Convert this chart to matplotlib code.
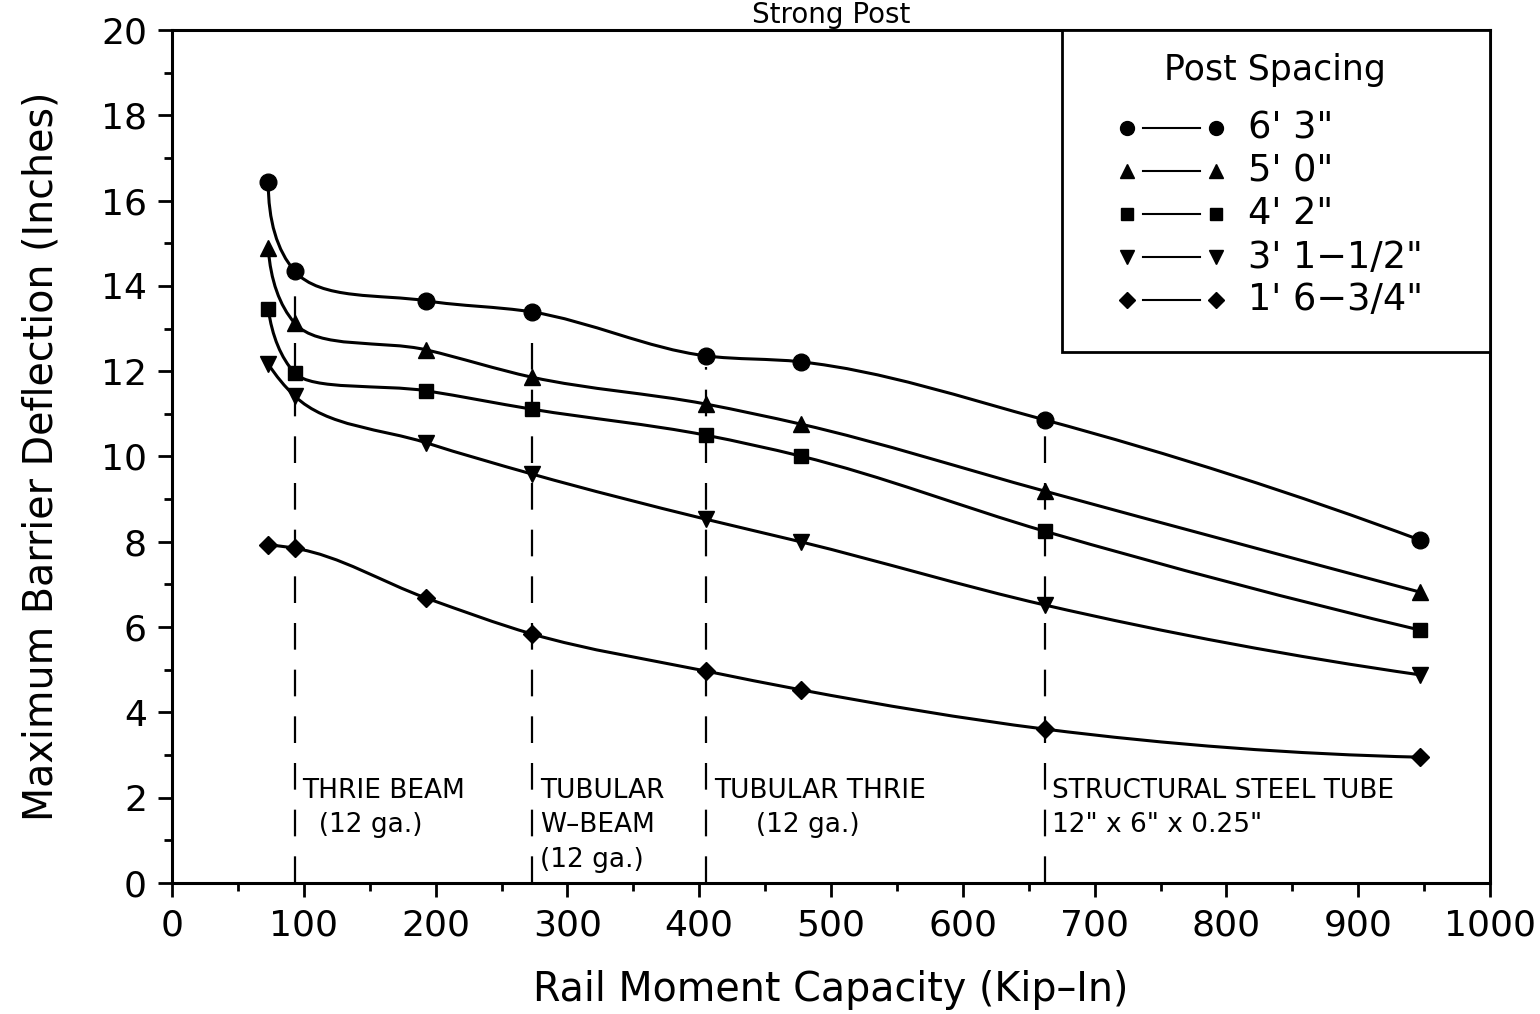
import numpy as np
import matplotlib
matplotlib.use("Agg")
import matplotlib.pyplot as plt
from matplotlib.path import Path
from matplotlib.patches import PathPatch, Rectangle

# ---------------- data ----------------
moment = [73, 93, 193, 273, 405, 477, 662, 947]
defl_6_3 = [16.44, 14.35, 13.65, 13.39, 12.36, 12.22, 10.86, 8.04]
defl_5_0 = [14.88, 13.13, 12.50, 11.86, 11.23, 10.76, 9.19, 6.82]
defl_4_2 = [13.46, 11.96, 11.54, 11.11, 10.50, 10.01, 8.25, 5.93]
defl_3_1 = [12.17, 11.42, 10.32, 9.59, 8.53, 8.00, 6.52, 4.88]
defl_1_6 = [7.93, 7.85, 6.68, 5.84, 4.97, 4.53, 3.61, 2.95]

series_labels = ["6' 3\"", "5' 0\"", "4' 2\"", "3' 1\u22121/2\"", "1' 6\u22123/4\""]
series_markers = ["o", "^", "s", "v", "D"]

rail_x = [93, 273, 405, 662]
rail_top = [13.8, 12.7, 12.1, 10.5]
rail_lines = [["THRIE BEAM", "  (12 ga.)"],
              ["TUBULAR", "W\u2013BEAM", "(12 ga.)"],
              ["TUBULAR THRIE", "     (12 ga.)"],
              ["STRUCTURAL STEEL TUBE", "12\" x 6\" x 0.25\""]]

xticks = [0, 100, 200, 300, 400, 500, 600, 700, 800, 900, 1000]
yticks = [0, 2, 4, 6, 8, 10, 12, 14, 16, 18, 20]

# y-to-x visual aspect (pixels per unit y / pixels per unit x)
YSCALE = (853 / 20) / (1318 / 1000)


def clamp_handle(P, v, lo, hi):
    """Shrink handle vector v (keeping direction) so P+v stays within [lo, hi] in y."""
    q = P[1] + v[1]
    if q > hi and v[1] > 0:
        v = v * (hi - P[1]) / v[1]
    elif q < lo and v[1] < 0:
        v = v * (lo - P[1]) / v[1]
    return v


def parametric_path(x, y):
    """Smooth parametric cubic (chord-length) through the points, as Bezier path."""
    P = np.column_stack([np.asarray(x, float), np.asarray(y, float) * YSCALE])
    seg = np.diff(P, axis=0)
    h = np.hypot(seg[:, 0], seg[:, 1])
    d = seg / h[:, None]
    n = len(P)
    m = np.zeros_like(P)
    for k in range(1, n - 1):
        m[k] = (h[k] * d[k - 1] + h[k - 1] * d[k]) / (h[k - 1] + h[k])
    m[0] = ((2 * h[0] + h[1]) * d[0] - h[0] * d[1]) / (h[0] + h[1])
    m[-1] = ((2 * h[-1] + h[-2]) * d[-1] - h[-1] * d[-2]) / (h[-1] + h[-2])
    verts = [P[0]]; codes = [Path.MOVETO]
    for i in range(n - 1):
        lo = min(P[i][1], P[i + 1][1]); hi = max(P[i][1], P[i + 1][1])
        v1 = clamp_handle(P[i], m[i] * h[i] / 3, lo, hi)
        v2 = clamp_handle(P[i + 1], -m[i + 1] * h[i] / 3, lo, hi)
        verts += [P[i] + v1, P[i + 1] + v2, P[i + 1]]
        codes += [Path.CURVE4] * 3
    V = np.array(verts)
    V[:, 1] /= YSCALE
    return Path(V, codes)


plt.rcParams['font.family'] = ['DejaVu Sans']
fig = plt.figure(figsize=(15.4, 10.14), dpi=100)
ax = fig.add_axes([172 / 1540, 1 - 883 / 1014, (1490 - 172) / 1540, (883 - 30) / 1014])

all_series = [defl_6_3, defl_5_0, defl_4_2, defl_3_1, defl_1_6]
msizes = [12, 11, 10.5, 11, 9]
for ys, mk, ms in zip(all_series, series_markers, msizes):
    ax.add_patch(PathPatch(parametric_path(moment, ys), fill=False, edgecolor='black',
                           linewidth=2.2, zorder=3, capstyle='round'))
    ax.plot(moment, ys, linestyle='none', marker=mk, markersize=ms, color='black', zorder=4)

for xv, top, lines in zip(rail_x, rail_top, rail_lines):
    ax.plot([xv, xv], [0, top], color='black', linewidth=1.6,
            dashes=(12, 9), zorder=2)
    for j, t in enumerate(lines):
        ax.text(xv + 6, 2.15 - j * 0.8, t, fontsize=19, va='center', ha='left',
                family=['Liberation Sans Narrow', 'DejaVu Sans Condensed', 'DejaVu Sans'])

ax.set_xlim(0, 1000)
ax.set_ylim(0, 20)
ax.set_xticks(xticks)
ax.set_yticks(yticks)
ax.set_xticks(np.arange(50, 1000, 100), minor=True)
ax.set_yticks(np.arange(1, 20, 2), minor=True)
ax.tick_params(axis='both', which='major', direction='out', length=10, width=2,
               labelsize=26, pad=8)
ax.tick_params(axis='both', which='minor', direction='out', length=6, width=2)
for sp in ax.spines.values():
    sp.set_linewidth(2.2)

ax.set_xlabel("Rail Moment Capacity (Kip\u2013In)", fontsize=28.5, labelpad=20)
ax.set_ylabel("Maximum Barrier Deflection (Inches)", fontsize=28.5, labelpad=28)
fig.text((172 + 1490) / 2 / 1540, 0.999, "Strong Post", fontsize=20,
         ha='center', va='top')

# ---------------- legend (drawn in axes coordinates) ----------------
def ax_x(px):
    return (px - 172) / 1318

def ax_y(py):
    return (883 - py) / 853

ax.add_patch(Rectangle((ax_x(1062), ax_y(352)), 1 - ax_x(1062), 1 - ax_y(352),
                       transform=ax.transAxes, facecolor='white', edgecolor='black',
                       linewidth=2, zorder=6, clip_on=False))
ax.text(ax_x(1275), ax_y(70), "Post Spacing", transform=ax.transAxes, fontsize=25,
        ha='center', va='center', zorder=7)
row_py = [128, 171, 214, 257, 300]
leg_ms = [10, 9.5, 9, 9.5, 8]
for py, mk, lab, ms in zip(row_py, series_markers, series_labels, leg_ms):
    yy = ax_y(py)
    ax.plot([ax_x(1143), ax_x(1200)], [yy, yy], color='black', linewidth=1.5,
            transform=ax.transAxes, zorder=7, clip_on=False)
    ax.plot([ax_x(1127), ax_x(1216)], [yy, yy], linestyle='none', marker=mk,
            markersize=ms, color='black', transform=ax.transAxes, zorder=7,
            clip_on=False)
    ax.text(ax_x(1248), yy, lab, transform=ax.transAxes, fontsize=26.5,
            ha='left', va='center', zorder=7)

fig.savefig("out.png", dpi=100, facecolor='white')
